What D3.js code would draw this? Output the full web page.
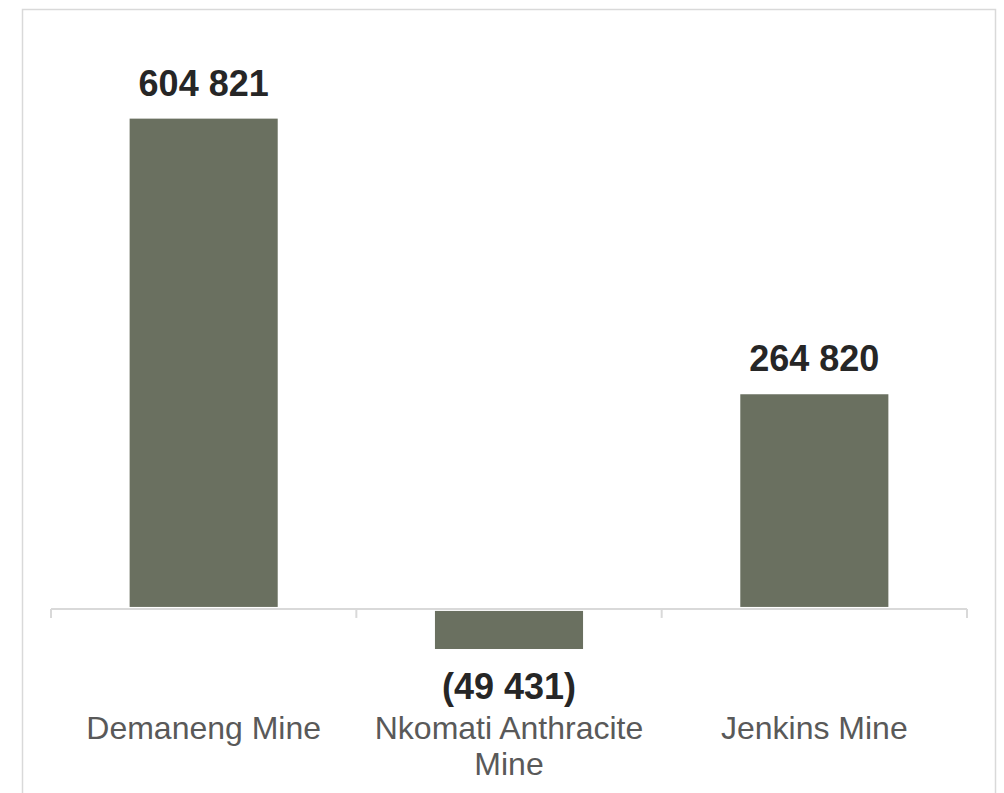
<!DOCTYPE html>
<html>
<head>
<meta charset="utf-8">
<script src="https://cdn.jsdelivr.net/npm/d3@7"></script>
<style>
  body { margin: 0; background: #fff; }
  svg { display: block; font-family: "Liberation Sans", Arial, sans-serif; }
</style>
</head>
<body>
<script>
var categories = ["Demaneng Mine", "Nkomati Anthracite Mine", "Jenkins Mine"];
var values = [604821, -49431, 264820];
var valueLabels = ["604 821", "(49 431)", "264 820"];

var w = 1004, h = 793;
var margin = {left: 51, right: 37};

var svg = d3.select('body').append('svg')
    .attr('width', w)
    .attr('height', h);

// chart frame
svg.append('rect')
    .attr('x', 22.5)
    .attr('y', 9.5)
    .attr('width', 973)
    .attr('height', 800)
    .attr('fill', 'none')
    .attr('stroke', '#d9d9d9')
    .attr('stroke-width', 1.5);

var xScale = d3.scaleBand()
    .domain(categories)
    .range([margin.left, w - margin.right])
    .paddingInner(0.515)
    .paddingOuter(0.2575);

var yScale = d3.scaleLinear()
    .domain([-100000, 650000])
    .range([690, 82]);

var band = d3.scaleBand()
    .domain(categories)
    .range([margin.left, w - margin.right]);

// bars
svg.selectAll('.bar')
    .data(values)
    .enter()
    .append('rect')
    .attr('class', 'bar')
    .attr('x', function (d, i) { return xScale(categories[i]); })
    .attr('width', xScale.bandwidth())
    .attr('y', function (d) { return d >= 0 ? yScale(d) : yScale(0) + 2; })
    .attr('height', function (d) { return d >= 0 ? yScale(0) - yScale(d) - 2 : yScale(d) - yScale(0) - 2; })
    .attr('fill', '#6a7060');

// x axis
var xAxis = d3.axisBottom(band).tickSize(0).tickFormat('');
var gx = svg.append('g')
    .attr('transform', 'translate(0,' + yScale(0) + ')')
    .call(xAxis);
gx.select('.domain').remove();
gx.append('line')
    .attr('x1', margin.left).attr('x2', w - margin.right)
    .attr('stroke', '#d9d9d9').attr('stroke-width', 2);
var edges = categories.map(function (c) { return band(c); }).concat([w - margin.right]);
gx.selectAll('.edge')
    .data(edges)
    .enter()
    .append('line')
    .attr('class', 'edge')
    .attr('x1', function (d) { return d; })
    .attr('x2', function (d) { return d; })
    .attr('y1', 0)
    .attr('y2', 9)
    .attr('stroke', '#d9d9d9')
    .attr('stroke-width', 2);

// category labels, wrapped to band width
svg.selectAll('.cat')
    .data(categories)
    .enter()
    .append('text')
    .attr('class', 'cat')
    .attr('x', function (d) { return band(d) + band.bandwidth() / 2; })
    .attr('y', 739)
    .attr('text-anchor', 'middle')
    .attr('fill', '#595959')
    .style('font-size', '32px')
    .each(function (d) {
        var text = d3.select(this);
        var words = d.split(' ');
        var line = [];
        var x = text.attr('x');
        var tspan = text.append('tspan').attr('x', x).attr('dy', 0);
        words.forEach(function (word) {
            line.push(word);
            tspan.text(line.join(' '));
            if (tspan.node().getComputedTextLength() > band.bandwidth() - 20 && line.length > 1) {
                line.pop();
                tspan.text(line.join(' '));
                line = [word];
                tspan = text.append('tspan').attr('x', x).attr('dy', 36).text(word);
            }
        });
    });

// value labels
svg.selectAll('.val')
    .data(values)
    .enter()
    .append('text')
    .attr('class', 'val')
    .attr('x', function (d, i) { return band(categories[i]) + band.bandwidth() / 2; })
    .attr('y', function (d) { return d >= 0 ? yScale(d) - 23 : yScale(d) + 50; })
    .attr('text-anchor', 'middle')
    .attr('fill', '#262626')
    .style('font-size', '36px')
    .style('font-weight', 'bold')
    .text(function (d, i) { return valueLabels[i]; });
</script>
</body>
</html>
